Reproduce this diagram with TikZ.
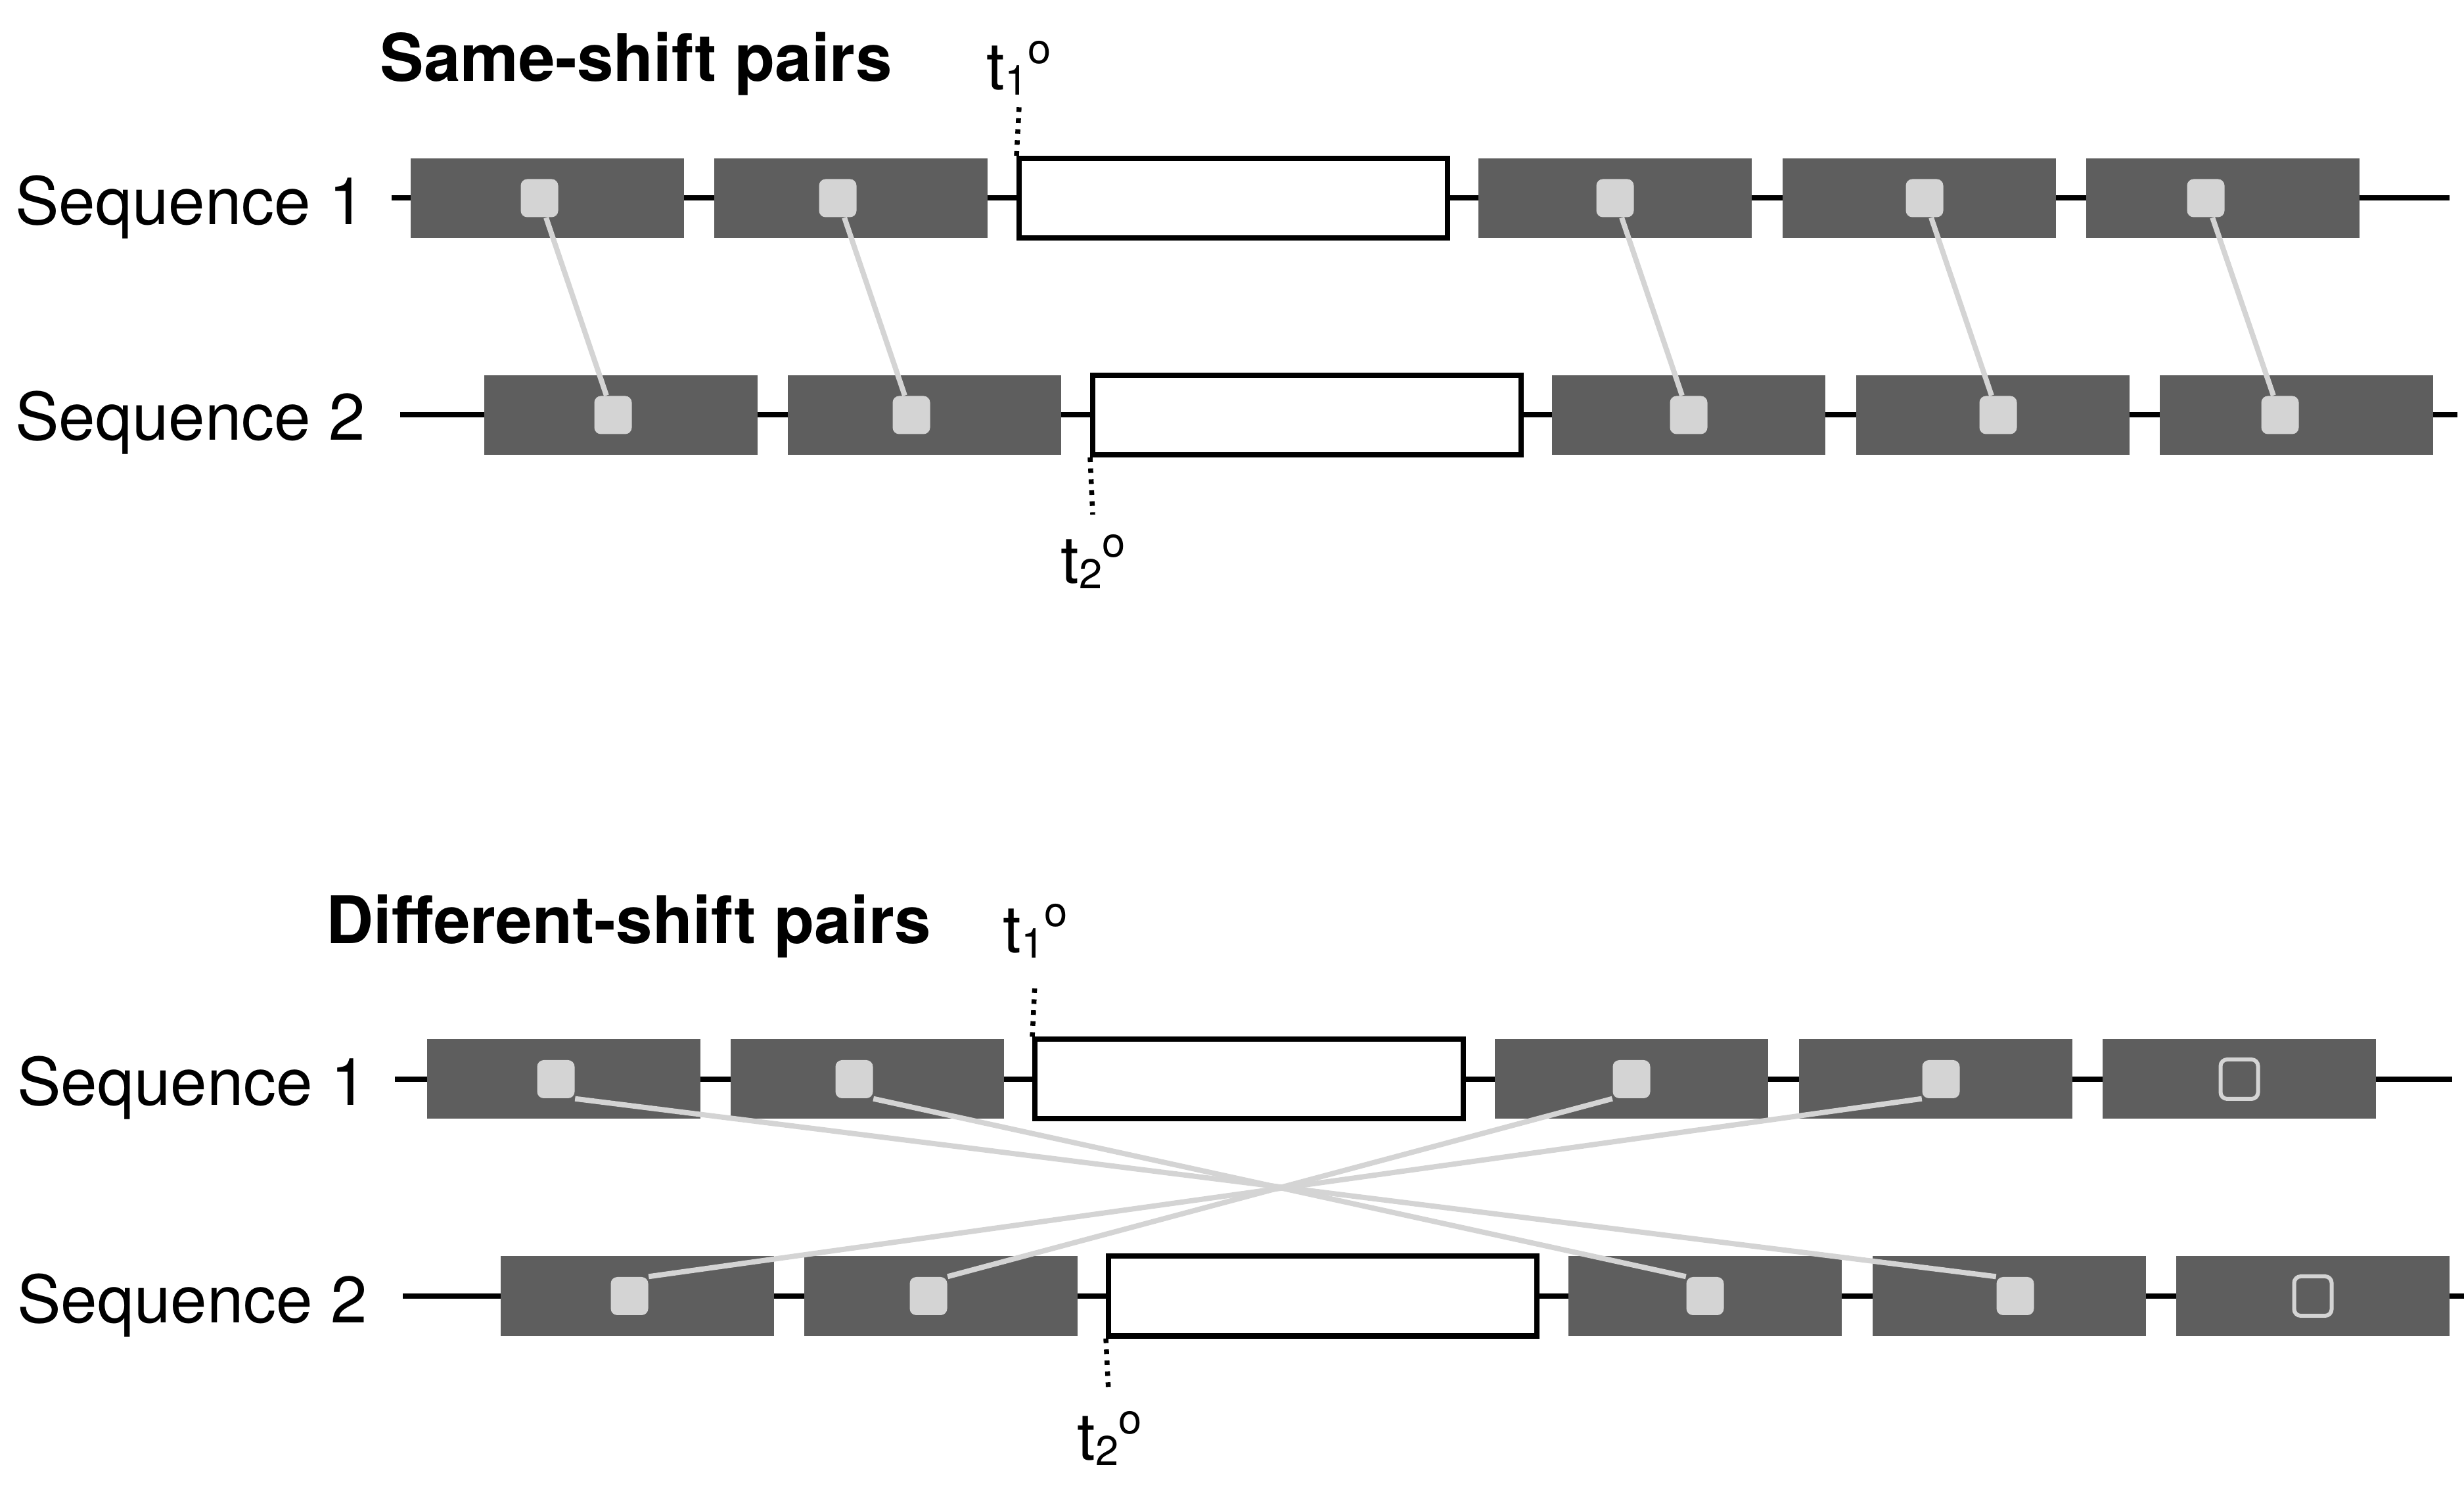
\documentclass[tikz,border=0pt]{standalone}
\usepackage{fontspec}
\setmainfont{TeX Gyre Heros}

\tikzset{
  seqline/.style={line width=0.08cm},
  shiftbox/.style={fill=black!63},
  gapbox/.style={draw,fill=white,line width=0.08cm,minimum width=6.52cm,minimum height=1.21cm,inner sep=0pt},
  ev/.style={fill=black!17,rounded corners=0.1cm,minimum width=0.57cm,minimum height=0.58cm,inner sep=0pt},
  evopen/.style={draw=black!17,fill=black!63,line width=0.06cm,rounded corners=0.1cm,minimum width=0.57cm,minimum height=0.6cm,inner sep=0pt},
  pairline/.style={draw=black!17,line width=0.08cm},
  tickline/.style={line width=0.075cm,dash pattern=on 0.07cm off 0.097cm},
  lab/.style={font=\fontsize{28.4}{34}\selectfont,inner sep=0pt},
}
\newcommand{\tlab}[1]{t\raisebox{-0.08cm}{\fontsize{18}{18}\selectfont #1}\raisebox{0.4cm}{\fontsize{18}{18}\selectfont o}}

\begin{document}
\begin{tikzpicture}
\useasboundingbox (0,0) rectangle (37.5,22.63);

% same-shift pairs
\node[lab,font=\fontsize{28.4}{34}\selectfont\bfseries,anchor=base west] (tsame) at (5.78,21.39) {Same-shift pairs};
\node[lab,anchor=base west] (qa1) at (0.225,19.21) {Sequence 1};
\node[lab,anchor=base west] (qa2) at (0.225,15.93) {Sequence 2};
\draw[seqline] (5.96,19.615) -- (37.28,19.615);
\draw[seqline] (6.09,16.315) -- (37.40,16.315);
\fill[shiftbox] (6.25,19.01) rectangle +(4.16,1.21);
\fill[shiftbox] (10.87,19.01) rectangle +(4.16,1.21);
\fill[shiftbox] (22.50,19.01) rectangle +(4.16,1.21);
\fill[shiftbox] (27.13,19.01) rectangle +(4.16,1.21);
\fill[shiftbox] (31.75,19.01) rectangle +(4.16,1.21);
\fill[shiftbox] (7.37,15.71) rectangle +(4.16,1.21);
\fill[shiftbox] (11.99,15.71) rectangle +(4.16,1.21);
\fill[shiftbox] (23.62,15.71) rectangle +(4.16,1.21);
\fill[shiftbox] (28.25,15.71) rectangle +(4.16,1.21);
\fill[shiftbox] (32.87,15.71) rectangle +(4.16,1.21);
\node[gapbox] (wa1) at (18.77,19.615) {};
\node[gapbox] (wa2) at (19.89,16.315) {};
\coordinate (ka1) at (15.51,21.00);
\coordinate (ka2) at (16.63,14.80);
\draw[tickline] (wa1.north west) -- (ka1);
\draw[tickline] (wa2.south west) -- (ka2);
\node[lab,anchor=base] (la1) at (15.51,21.26) {\tlab{1}};
\node[lab,anchor=base] (la2) at (16.64,13.75) {\tlab{2}};

\node[ev] (sa1) at (8.21,19.615) {};
\node[ev] (sa2) at (12.75,19.615) {};
\node[ev] (sa3) at (24.58,19.615) {};
\node[ev] (sa4) at (29.29,19.615) {};
\node[ev] (sa5) at (33.57,19.615) {};
\node[ev] (sb1) at (9.33,16.315) {};
\node[ev] (sb2) at (13.87,16.315) {};
\node[ev] (sb3) at (25.70,16.315) {};
\node[ev] (sb4) at (30.41,16.315) {};
\node[ev] (sb5) at (34.70,16.315) {};
\draw[pairline] (sa1) -- (sb1);
\draw[pairline] (sa2) -- (sb2);
\draw[pairline] (sa3) -- (sb3);
\draw[pairline] (sa4) -- (sb4);
\draw[pairline] (sa5) -- (sb5);

% different-shift pairs
\node[lab,font=\fontsize{28.4}{34}\selectfont\bfseries,anchor=base west] (tdiff) at (4.96,8.27) {Different-shift pairs};
\node[lab,anchor=base west] (qb1) at (0.255,5.81) {Sequence 1};
\node[lab,anchor=base west] (qb2) at (0.255,2.51) {Sequence 2};
\draw[seqline] (6.01,6.21) -- (37.32,6.21);
\draw[seqline] (6.13,2.91) -- (37.50,2.91);
\fill[shiftbox] (6.50,5.605) rectangle +(4.16,1.21);
\fill[shiftbox] (11.12,5.605) rectangle +(4.16,1.21);
\fill[shiftbox] (22.75,5.605) rectangle +(4.16,1.21);
\fill[shiftbox] (27.38,5.605) rectangle +(4.16,1.21);
\fill[shiftbox] (32.00,5.605) rectangle +(4.16,1.21);
\fill[shiftbox] (7.62,2.305) rectangle +(4.16,1.21);
\fill[shiftbox] (12.24,2.305) rectangle +(4.16,1.21);
\fill[shiftbox] (23.87,2.305) rectangle +(4.16,1.21);
\fill[shiftbox] (28.50,2.305) rectangle +(4.16,1.21);
\fill[shiftbox] (33.12,2.305) rectangle +(4.16,1.21);
\node[gapbox] (wb1) at (19.01,6.21) {};
\node[gapbox] (wb2) at (20.13,2.91) {};
\coordinate (kb1) at (15.75,7.66);
\coordinate (kb2) at (16.87,1.47);
\draw[tickline] (wb1.north west) -- (kb1);
\draw[tickline] (wb2.south west) -- (kb2);
\node[lab,anchor=base] (lb1) at (15.76,8.13) {\tlab{1}};
\node[lab,anchor=base] (lb2) at (16.89,0.42) {\tlab{2}};

\node[ev] (da1) at (8.46,6.21) {};
\node[ev] (da2) at (13.00,6.21) {};
\node[ev] (da3) at (24.83,6.21) {};
\node[ev] (da4) at (29.54,6.21) {};
\node[evopen] (da5) at (34.08,6.21) {};
\node[ev] (db1) at (9.58,2.91) {};
\node[ev] (db2) at (14.13,2.91) {};
\node[ev] (db3) at (25.95,2.91) {};
\node[ev] (db4) at (30.67,2.91) {};
\node[evopen] (db5) at (35.20,2.91) {};
\draw[pairline] (da1.south east) -- (db4.north west);
\draw[pairline] (da2.south east) -- (db3.north west);
\draw[pairline] (db1.north east) -- (da4.south west);
\draw[pairline] (db2.north east) -- (da3.south west);

\end{tikzpicture}
\end{document}
